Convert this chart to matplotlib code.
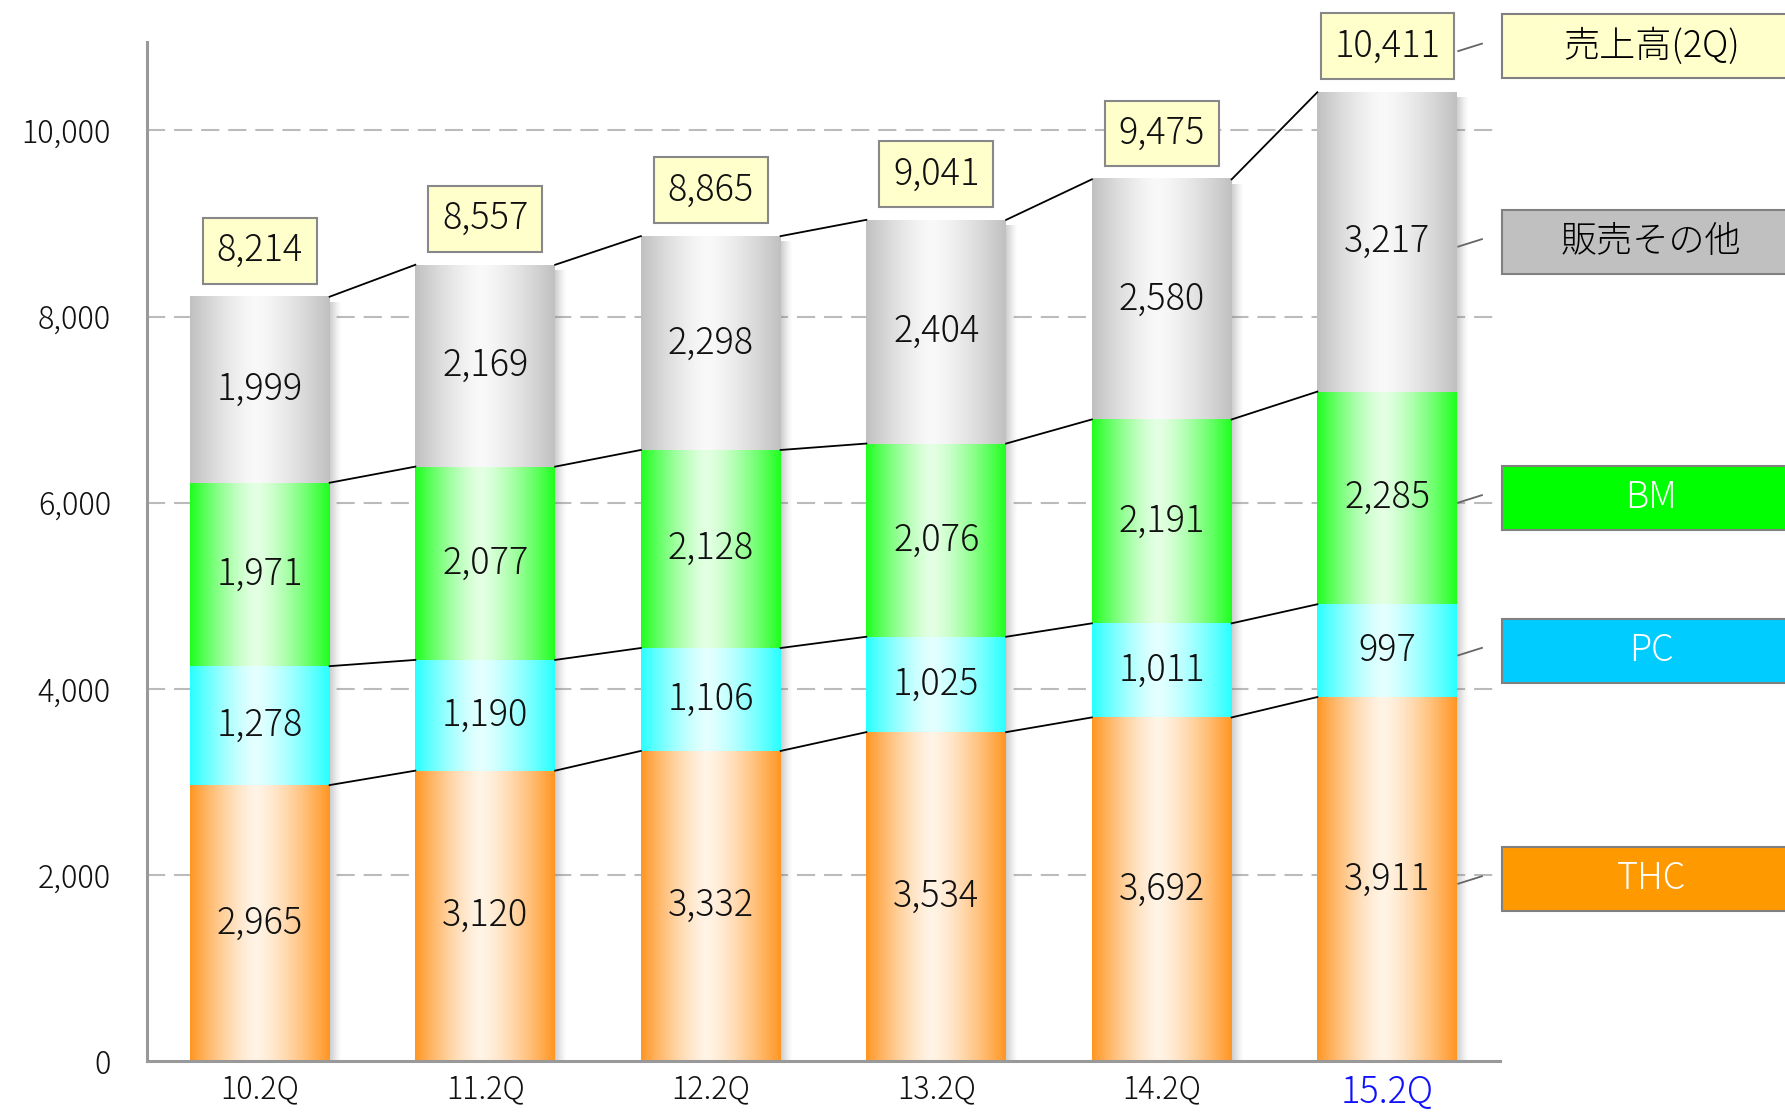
import matplotlib
matplotlib.use('Agg')
import matplotlib.pyplot as plt
import numpy as np
from matplotlib.patches import Rectangle

plt.rcParams['font.family'] = ['Noto Sans CJK JP', 'DejaVu Sans']
plt.rcParams['font.weight'] = 'light'

# === データ ===
quarters = ['10.2Q', '11.2Q', '12.2Q', '13.2Q', '14.2Q', '15.2Q']
thc = [2965, 3120, 3332, 3534, 3692, 3911]
pc = [1278, 1190, 1106, 1025, 1011, 997]
bm = [1971, 2077, 2128, 2076, 2191, 2285]
other = [1999, 2169, 2298, 2404, 2580, 3217]
total = [8214, 8557, 8865, 9041, 9475, 10411]
yticks = [0, 2000, 4000, 6000, 8000, 10000]

segments = [thc, pc, bm, other]
seg_names = ['THC', 'PC', 'BM', '販売その他']
# (端の色, 中央の明るい色)
seg_grad = [((255, 150, 35), (255, 244, 230)),
            ((40, 255, 255), (228, 255, 255)),
            ((30, 255, 30), (228, 255, 228)),
            ((192, 192, 192), (249, 249, 249))]
legend_fc = ['#FF9900', '#00CCFF', '#00FF00', '#C0C0C0']
legend_tc = ['white', 'white', 'white', 'black']

W = 0.62


def grad_img(edge, light, n=200):
    x = np.linspace(0, 1, n)
    peak = 0.47
    t = np.where(x < peak, (peak - x) / peak, (x - peak) / (1 - peak))
    f = t ** 1.4
    edge = np.array(edge) / 255
    light = np.array(light) / 255
    img = light[None, :] + (edge - light)[None, :] * f[:, None]
    return img[None, :, :]


fig = plt.figure(figsize=(17.85, 11.12), dpi=100)
ax = fig.add_axes([147 / 1785, 51 / 1112, 1353 / 1785, 1019 / 1112])
ax.set_xlim(-0.5, 5.5)
ax.set_ylim(0, 10950)

# グリッド
for yv in yticks[1:]:
    ax.axhline(yv, color='#BBBBBB', lw=1.5, ls=(0, (8.7, 4.3)), zorder=0)

x = np.arange(len(quarters))
cum = np.zeros(len(quarters))
levels = []
for k, seg in enumerate(segments):
    seg = np.array(seg, dtype=float)
    img = grad_img(*seg_grad[k])
    for i in range(len(quarters)):
        ax.imshow(img, extent=(x[i] - W / 2, x[i] + W / 2, cum[i], cum[i] + seg[i]),
                  aspect='auto', interpolation='bilinear', zorder=2)
        ax.text(x[i], cum[i] + seg[i] / 2, f'{int(seg[i]):,}', ha='center', va='center',
                fontsize=26, color='#111111', zorder=5)
    cum = cum + seg
    levels.append(cum.copy())

# 影
sh = np.zeros((1, 50, 4))
sh[0, :, :3] = 0.45
sh[0, :, 3] = np.linspace(0.45, 0.0, 50) ** 1.3
for i in range(len(quarters)):
    ax.imshow(sh, extent=(x[i] + W / 2, x[i] + W / 2 + 0.05, -60, cum[i] - 60),
              aspect='auto', interpolation='bilinear', zorder=1)

# 連結線
for lev in levels:
    for i in range(len(quarters) - 1):
        ax.plot([x[i] + W / 2, x[i + 1] - W / 2], [lev[i], lev[i + 1]],
                color='black', lw=1.3, zorder=3)

# 合計ラベル
for i in range(len(quarters)):
    ax.annotate(f'{total[i]:,}', (x[i], cum[i]), xytext=(0, 33), textcoords='offset points',
                ha='center', va='center', fontsize=26, color='#111111', zorder=6,
                bbox=dict(boxstyle='square,pad=0.38', fc='#FFFFCC', ec='#888888', lw=1.5))

# 右側の凡例ボックス
last = len(quarters) - 1
px_per_unit = 1019 / 10950
box_h = 64 / px_per_unit
bx0 = 5.507
leg_items = []
for k in range(4):
    bottom_k = levels[k - 1][last] if k > 0 else 0
    leg_items.append((seg_names[k], (bottom_k + levels[k][last]) / 2, legend_fc[k], legend_tc[k]))
leg_items.append(('売上高(2Q)', cum[last] + 33 / 0.72 / px_per_unit, '#FFFFCC', 'black'))
for name, yc, fc, tc in leg_items:
    ax.add_patch(Rectangle((bx0, yc - box_h / 2), 1.5, box_h, fc=fc, ec='#808080', lw=1.5,
                           clip_on=False, zorder=6))
    ax.text(6.17, yc, name, ha='center', va='center', fontsize=26, color=tc,
            clip_on=False, zorder=7)
    ax.plot([last + W / 2 + 0.005, 5.42], [yc - 50, yc + 30], color='#666666', lw=1.3,
            clip_on=False, zorder=6)

# 軸
for s in ['top', 'right']:
    ax.spines[s].set_visible(False)
for s in ['left', 'bottom']:
    ax.spines[s].set_color('#999999')
    ax.spines[s].set_linewidth(2.2)
    ax.spines[s].set_zorder(4)
ax.set_yticks(yticks)
ax.set_yticklabels([f'{v:,}' for v in yticks])
ax.tick_params(axis='y', length=0, pad=26, labelsize=22, labelcolor='#111111')
ax.set_xticks(x)
ax.set_xticklabels(quarters)
ax.tick_params(axis='x', length=0, pad=9, labelsize=22, labelcolor='#111111')
lbl = ax.get_xticklabels()[-1]
lbl.set_color('#1111FF')
lbl.set_fontsize(26)

fig.savefig('out.png', dpi=100)
